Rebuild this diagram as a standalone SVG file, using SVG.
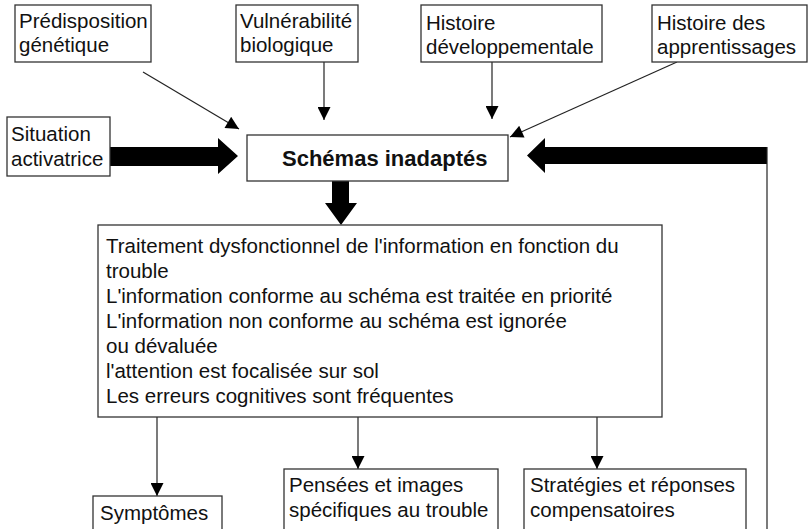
<svg xmlns="http://www.w3.org/2000/svg" width="808" height="529" viewBox="0 0 808 529">
<defs>
<style>
.box{fill:#fff;stroke:#333;stroke-width:1.3}
.t{font-family:"Liberation Sans",Arial,sans-serif;font-size:20.5px;fill:#111}
.b{font-weight:bold;font-size:22px}
.ln{stroke:#222;stroke-width:1.2;fill:none}
.fat{fill:#000}
</style>
<marker id="ah" viewBox="0 0 10 10" refX="10" refY="5" markerWidth="14" markerHeight="13" markerUnits="userSpaceOnUse" orient="auto">
<path d="M0,0 L10,5 L0,10 z" fill="#000"/>
</marker>
</defs>
<rect width="808" height="529" fill="#fff"/>
<g id="connectors">
<line class="ln" x1="143" y1="72" x2="239" y2="129" marker-end="url(#ah)"/>
<line class="ln" x1="324" y1="62" x2="324" y2="120" marker-end="url(#ah)"/>
<line class="ln" x1="492" y1="62" x2="492" y2="119" marker-end="url(#ah)"/>
<line class="ln" x1="677" y1="62" x2="510" y2="137" marker-end="url(#ah)"/>
<path class="fat" d="M110,147 L218,147 L218,138 L238,156 L218,174 L218,166 L110,166 z"/>
<path class="fat" d="M332,181 L349,181 L349,203 L357,203 L341,225 L325,203 L332,203 z"/>
<path class="fat" d="M767,147 L545,147 L545,138 L527,155.5 L545,173 L545,164 L767,164 z"/>
<line class="ln" x1="767" y1="147" x2="767" y2="529" stroke="#444" stroke-width="1.5"/>
<line class="ln" x1="157" y1="417" x2="157" y2="496" marker-end="url(#ah)"/>
<line class="ln" x1="358" y1="417" x2="358" y2="469" marker-end="url(#ah)"/>
<line class="ln" x1="597" y1="417" x2="597" y2="469" marker-end="url(#ah)"/>
</g>
<g id="predisposition">
<rect class="box" x="15" y="5" width="136" height="57"/>
<text class="t" x="19" y="28">Prédisposition</text>
<text class="t" x="19" y="52">génétique</text>
</g>
<g id="vulnerabilite">
<rect class="box" x="236" y="5" width="122" height="57"/>
<text class="t" x="240" y="28">Vulnérabilité</text>
<text class="t" x="240" y="52">biologique</text>
</g>
<g id="histoire-dev">
<rect class="box" x="421" y="5" width="181" height="57"/>
<text class="t" x="426" y="30">Histoire</text>
<text class="t" x="426" y="54">développementale</text>
</g>
<g id="histoire-app">
<rect class="box" x="652" y="5" width="155" height="57"/>
<text class="t" x="657" y="30">Histoire des</text>
<text class="t" x="657" y="54">apprentissages</text>
</g>
<g id="situation">
<rect class="box" x="7" y="117" width="103" height="59"/>
<text class="t" x="11" y="141">Situation</text>
<text class="t" x="11" y="166">activatrice</text>
</g>
<g id="schemas">
<rect class="box" x="247" y="135" width="261" height="46"/>
<text class="t b" x="282" y="166">Schémas inadaptés</text>
</g>
<g id="traitement">
<rect class="box" x="98" y="225" width="564" height="192"/>
<text class="t" x="106" y="253">Traitement dysfonctionnel de l'information en fonction du</text>
<text class="t" x="106" y="278">trouble</text>
<text class="t" x="106" y="303">L'information conforme au schéma est traitée en priorité</text>
<text class="t" x="106" y="328">L'information non conforme au schéma est ignorée</text>
<text class="t" x="106" y="353">ou dévaluée</text>
<text class="t" x="106" y="378">l'attention est focalisée sur sol</text>
<text class="t" x="106" y="403">Les erreurs cognitives sont fréquentes</text>
</g>
<g id="symptomes">
<rect class="box" x="93" y="496" width="129" height="45"/>
<text class="t" x="100" y="520">Symptômes</text>
</g>
<g id="pensees">
<rect class="box" x="284" y="469" width="214" height="72"/>
<text class="t" x="289" y="492">Pensées et images</text>
<text class="t" x="289" y="517">spécifiques au trouble</text>
</g>
<g id="strategies">
<rect class="box" x="524" y="469" width="222" height="72"/>
<text class="t" x="530" y="492">Stratégies et réponses</text>
<text class="t" x="530" y="517">compensatoires</text>
</g>
</svg>
